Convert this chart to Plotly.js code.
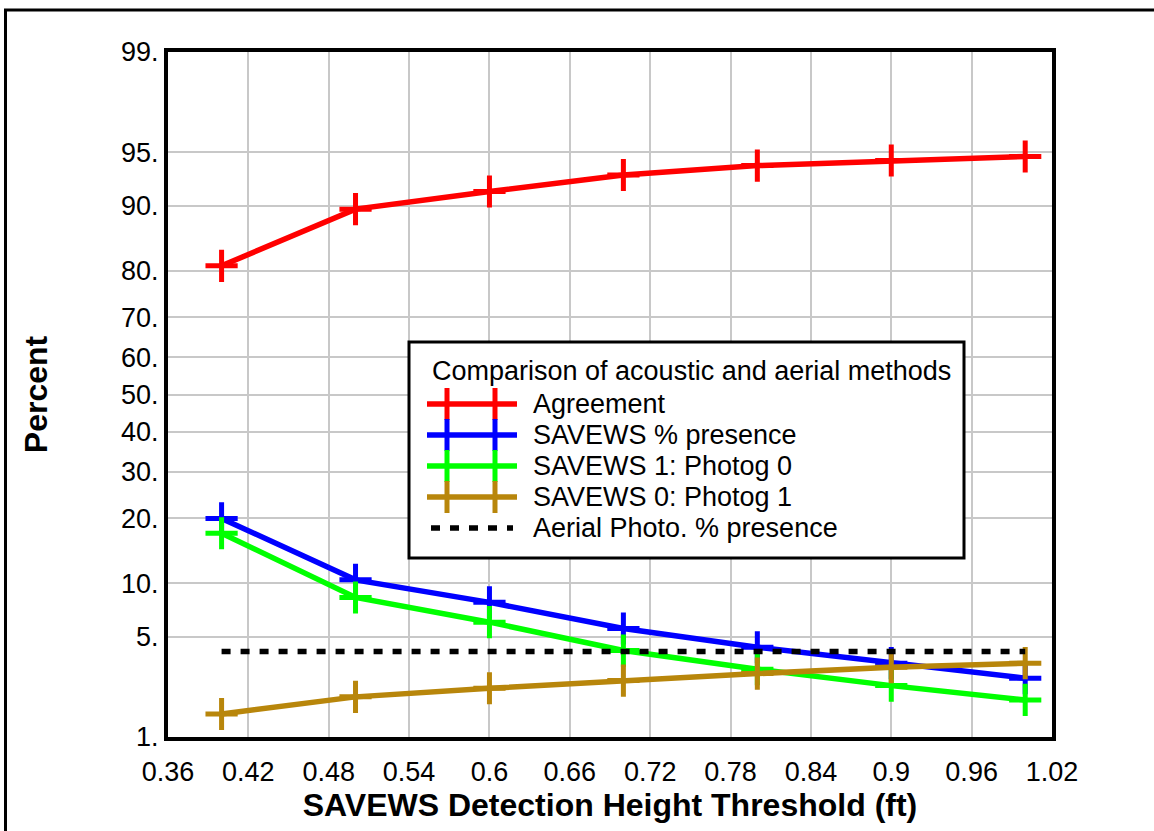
<!DOCTYPE html>
<html>
<head>
<meta charset="utf-8">
<script src="https://cdn.plot.ly/plotly-3.0.1.min.js"></script>
<style>
html, body { margin: 0; padding: 0; background: #ffffff; }
#chart { width: 1154px; height: 831px; }
</style>
</head>
<body>
<div id="chart"></div>
<script>
// ---- data (percent values) ----
const thresholds = [0.4, 0.5, 0.6, 0.7, 0.8, 0.9, 1.0];
const agreement = [80.9, 89.6, 91.6, 93.2, 94.0, 94.4, 94.7];
const savewsPresence = [20.0, 10.4, 7.9, 5.6, 4.3, 3.4, 2.7];
const savews1Photog0 = [17.3, 8.4, 6.1, 4.1, 3.1, 2.4, 1.9];
const savews0Photog1 = [1.5, 2.0, 2.3, 2.6, 2.9, 3.2, 3.4];
const aerialX = [0.4, 1.0];
const aerialPresence = [4.05, 4.05];

const seriesNames = ['Agreement', 'SAVEWS % presence', 'SAVEWS 1: Photog 0', 'SAVEWS 0: Photog 1', 'Aerial Photo. % presence'];
const seriesColors = ['#ff0000', '#0000ff', '#00ff00', '#b8860b', '#000000'];
const tickPercents = [1, 5, 10, 20, 30, 40, 50, 60, 70, 80, 90, 95, 99];
const legendTitle = 'Comparison of acoustic and aerial methods';
const xTitle = 'SAVEWS Detection Height Threshold (ft)';
const yTitle = 'Percent';

// ---- normal probability (probit) scale transform ----
function probit(p) {
  const a = [-3.969683028665376e+01, 2.209460984245205e+02, -2.759285104469687e+02,
             1.383577518672690e+02, -3.066479806614716e+01, 2.506628277459239e+00];
  const b = [-5.447609879822406e+01, 1.615858368580409e+02, -1.556989798598866e+02,
             6.680131188771972e+01, -1.328068155288572e+01];
  const c = [-7.784894002430293e-03, -3.223964580411365e-01, -2.400758277161838e+00,
             -2.549732539343734e+00, 4.374664141464968e+00, 2.938163982698783e+00];
  const d = [7.784695709041462e-03, 3.224671290700398e-01, 2.445134137142996e+00,
             3.754408661907416e+00];
  const pl = 0.02425, ph = 1 - pl;
  let q, r;
  if (p < pl) {
    q = Math.sqrt(-2 * Math.log(p));
    return (((((c[0]*q+c[1])*q+c[2])*q+c[3])*q+c[4])*q+c[5]) / ((((d[0]*q+d[1])*q+d[2])*q+d[3])*q+1);
  } else if (p <= ph) {
    q = p - 0.5; r = q * q;
    return (((((a[0]*r+a[1])*r+a[2])*r+a[3])*r+a[4])*r+a[5])*q / (((((b[0]*r+b[1])*r+b[2])*r+b[3])*r+b[4])*r+1);
  } else {
    q = Math.sqrt(-2 * Math.log(1 - p));
    return -(((((c[0]*q+c[1])*q+c[2])*q+c[3])*q+c[4])*q+c[5]) / ((((d[0]*q+d[1])*q+d[2])*q+d[3])*q+1);
  }
}
const toZ = v => probit(v / 100);

const yRange = [toZ(1), toZ(99)];
const tickVals = tickPercents.map(toZ);
const leftText = tickPercents.map(p => p + '.');
const rightText = tickPercents.map(p => (100 - p) + '.');

const LINE_W = 5.5, MARK_W = 5, MARK_SIZE = 23, DOT = '9px,10px';

function markerLine(name, color, xs, ys) {
  return {
    type: 'scatter', mode: 'lines+markers', name: name, showlegend: false,
    x: xs, y: ys.map(toZ), customdata: ys,
    hovertemplate: '%{x}: %{customdata}%<extra>' + name + '</extra>',
    line: { color: color, width: LINE_W },
    marker: { symbol: 'cross-thin', size: MARK_SIZE, color: color, line: { color: color, width: MARK_W } }
  };
}

const traces = [
  markerLine(seriesNames[0], seriesColors[0], thresholds, agreement),
  markerLine(seriesNames[1], seriesColors[1], thresholds, savewsPresence),
  markerLine(seriesNames[2], seriesColors[2], thresholds, savews1Photog0),
  markerLine(seriesNames[3], seriesColors[3], thresholds, savews0Photog1),
  {
    type: 'scatter', mode: 'lines', name: seriesNames[4], showlegend: false,
    x: aerialX, y: aerialPresence.map(toZ), customdata: aerialPresence,
    hovertemplate: '%{x}: %{customdata}%<extra>' + seriesNames[4] + '</extra>',
    line: { color: seriesColors[4], width: LINE_W, dash: DOT }
  }
];

const fontFam = '"Liberation Sans", Arial, Helvetica, sans-serif';
const gridCol = '#c8c8c8';
const FS = 27;

// ---- plot geometry (pixels) for the legend box / outer frame ----
const W = 1154, H = 831, M = { l: 168, r: 102, t: 52, b: 94 };
const PW = W - M.l - M.r, PH = H - M.t - M.b;
const px = x => (x - M.l) / PW;
const py = y => (H - M.b - y) / PH;

// ---- legend drawn as a box with two-cross glyphs ----
const LG = { left: 409, right: 964, top: 342, bottom: 558, titleY: 371, row0: 404, rowGap: 31,
             lineX0: 427, lineX1: 517, cross: [447, 495], arm: 16, textX: 531, titleX: 430 };
const shapes = [];
const annotations = [];
shapes.push({ type: 'rect', xref: 'paper', yref: 'paper', layer: 'above',
  x0: px(LG.left), x1: px(LG.right), y0: py(LG.bottom), y1: py(LG.top),
  fillcolor: '#ffffff', line: { color: '#000000', width: 3 } });
annotations.push({ xref: 'paper', yref: 'paper', x: px(LG.titleX), y: py(LG.titleY),
  xanchor: 'left', yanchor: 'middle', showarrow: false, text: legendTitle,
  font: { size: FS, family: fontFam, color: '#000000' } });
seriesNames.forEach((name, i) => {
  const ry = LG.row0 + i * LG.rowGap;
  const col = seriesColors[i];
  const isDot = (i === seriesNames.length - 1);
  shapes.push({ type: 'line', xref: 'paper', yref: 'paper', layer: 'above',
    x0: px(isDot ? LG.lineX0 + 4 : LG.lineX0), x1: px(isDot ? LG.lineX1 - 4 : LG.lineX1),
    y0: py(ry), y1: py(ry),
    line: { color: col, width: LINE_W, dash: isDot ? DOT : 'solid' } });
  if (!isDot) {
    LG.cross.forEach(cx => {
      shapes.push({ type: 'line', xref: 'paper', yref: 'paper', layer: 'above',
        x0: px(cx), x1: px(cx), y0: py(ry - LG.arm), y1: py(ry + LG.arm),
        line: { color: col, width: MARK_W } });
    });
  }
  annotations.push({ xref: 'paper', yref: 'paper', x: px(LG.textX), y: py(ry),
    xanchor: 'left', yanchor: 'middle', showarrow: false, text: name,
    font: { size: FS, family: fontFam, color: '#000000' } });
});

// outer frame (only top and left edges fall inside the picture)
shapes.push({ type: 'path', xref: 'paper', yref: 'paper', layer: 'above',
  path: 'M ' + px(5.5) + ',' + py(845) + ' L ' + px(5.5) + ',' + py(10) + ' L ' + px(1165) + ',' + py(10),
  line: { color: '#000000', width: 3 } });

const layout = {
  width: W, height: H,
  margin: { l: M.l, r: M.r, t: M.t, b: M.b, pad: 0 },
  paper_bgcolor: '#ffffff', plot_bgcolor: '#ffffff',
  font: { family: fontFam, color: '#000000', size: FS },
  showlegend: false,
  xaxis: {
    range: [0.36, 1.02], tick0: 0.36, dtick: 0.06, autorange: false,
    showgrid: true, gridcolor: gridCol, gridwidth: 2, zeroline: false,
    showline: true, linecolor: '#000000', linewidth: 4, mirror: true,
    ticks: 'outside', ticklen: 8, tickcolor: 'rgba(0,0,0,0)',
    tickfont: { size: FS, family: fontFam },
    title: { text: xTitle, font: { size: 32, family: fontFam, weight: 'bold' }, standoff: 4 },
    automargin: false
  },
  yaxis: {
    range: yRange, autorange: false, tickmode: 'array', tickvals: tickVals, ticktext: leftText,
    showgrid: true, gridcolor: gridCol, gridwidth: 2, zeroline: false,
    showline: true, linecolor: '#000000', linewidth: 4, mirror: true,
    ticks: '', tickfont: { size: FS, family: fontFam },
    title: { text: yTitle, font: { size: 32, family: fontFam, weight: 'bold' }, standoff: 65 },
    automargin: false
  },
  yaxis2: {
    overlaying: 'y', side: 'right', range: yRange, autorange: false,
    tickmode: 'array', tickvals: tickVals, ticktext: rightText,
    showgrid: false, zeroline: false, showline: false, ticks: '',
    tickfont: { size: FS, family: fontFam }, automargin: false
  },
  shapes: shapes,
  annotations: annotations
};

Plotly.newPlot('chart', traces, layout, { displayModeBar: false });
</script>
</body>
</html>
